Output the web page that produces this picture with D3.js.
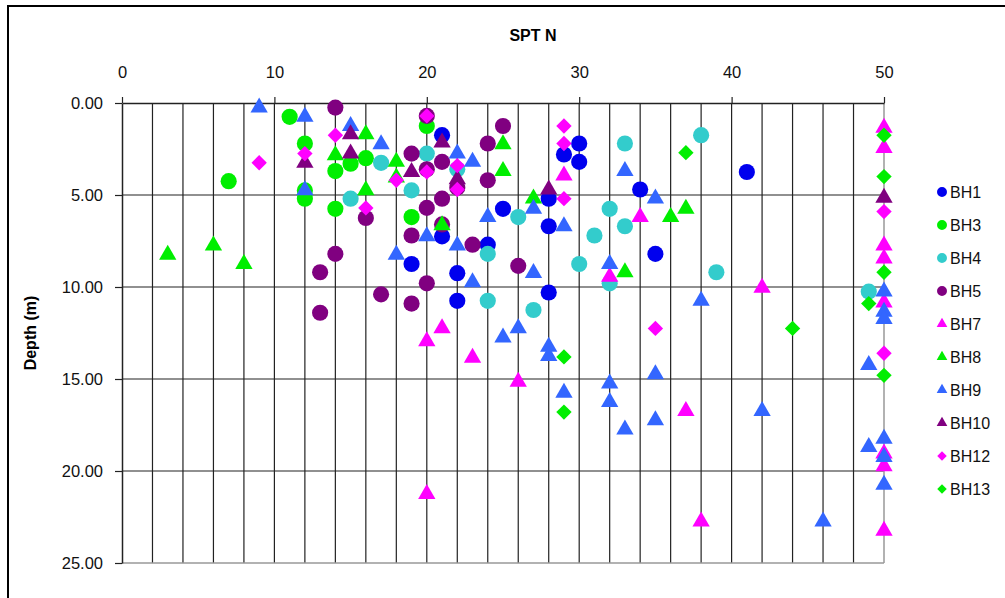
<!DOCTYPE html>
<html>
<head>
<meta charset="utf-8">
<script src="https://cdn.jsdelivr.net/npm/d3@7"></script>
<style>
  body { margin: 0; background: #fff; }
  svg { display: block; font-family: "Liberation Sans", Arial, sans-serif; }
</style>
</head>
<body>
<div id="chart"></div>
<script>
// SPT N vs depth, one array of [N, depth] per borehole
const BH1 = [[21,1.75],[29,2.8],[30,2.2],[30,3.2],[34,4.7],[41,3.75],[28,5.2],[25,5.75],[28,6.7],
  [21,7.25],[24,7.7],[19,8.75],[22,9.25],[35,8.2],[28,10.3],[22,10.75]];
const BH3 = [[11,0.75],[7,4.25],[12,2.2],[14,3.7],[15,3.3],[16,3.0],[20,1.25],[12,4.75],[12,5.2],
  [14,5.75],[19,6.2]];
const BH4 = [[17,3.25],[19,4.75],[20,2.75],[22,3.6],[15,5.2],[33,2.2],[26,6.2],[32,5.75],[33,6.7],
  [31,7.2],[38,1.75],[24,8.2],[30,8.75],[39,9.2],[32,9.8],[24,10.75],[27,11.25],[49,10.25]];
const BH5 = [[14,0.25],[20,0.7],[19,2.75],[21,3.2],[20,3.6],[22,4.6],[16,6.25],[20,5.7],[21,5.2],
  [19,7.2],[21,6.6],[23,7.7],[25,1.25],[24,2.2],[24,4.2],[14,8.2],[13,9.2],[13,11.4],[26,8.85],
  [20,9.8],[17,10.4],[19,10.9]];
const BH7 = [[29,4.0],[34,6.25],[32,9.5],[42,10.1],[21,12.3],[20,13.0],[23,13.9],[26,15.2],[37,16.8],
  [38,22.8],[20,21.3],[50,1.4],[50,2.5],[50,7.8],[50,8.5],[50,10.9],[50,19.1],[50,19.8],[50,23.3]];
const BH8 = [[16,1.75],[14,2.9],[18,3.25],[18,4.1],[16,4.8],[21,6.7],[25,2.3],[25,3.75],[27,5.25],
  [36,6.25],[37,5.8],[33,9.25],[3,8.3],[6,7.8],[8,8.8]];
const BH9 = [[9,0.3],[12,0.8],[15,1.3],[17,2.3],[12,4.8],[22,2.8],[23,3.25],[33,3.75],[35,5.25],
  [27,5.8],[24,6.25],[29,6.75],[20,7.3],[22,7.8],[18,8.3],[27,9.3],[23,9.8],[32,8.8],[38,10.8],
  [25,12.8],[26,12.3],[28,13.3],[28,13.8],[29,15.8],[32,15.3],[32,16.3],[33,17.8],[35,14.8],
  [35,17.3],[42,16.8],[49,14.3],[49,18.75],[46,22.8],[50,10.3],[50,11.4],[50,11.8],[50,18.3],
  [50,19.3],[50,20.8]];
const BH10 = [[15,1.75],[12,3.3],[15,2.8],[19,3.8],[21,2.2],[22,4.2],[28,4.75],[50,5.2]];
const BH12 = [[9,3.25],[14,1.75],[12,2.75],[18,4.2],[16,5.7],[20,0.7],[20,3.75],[22,3.4],[22,4.7],
  [29,1.25],[29,2.2],[29,5.2],[35,12.25],[50,5.9],[50,13.6]];
const BH13 = [[37,2.7],[44,12.25],[49,10.9],[29,13.8],[29,16.8],[50,1.75],[50,4.0],[50,9.2],[50,14.8]];

const seriesNames = ["BH1","BH3","BH4","BH5","BH7","BH8","BH9","BH10","BH12","BH13"];
const seriesData = [BH1, BH3, BH4, BH5, BH7, BH8, BH9, BH10, BH12, BH13];
const xTicks = [0, 10, 20, 30, 40, 50];
const yTicks = [0, 5, 10, 15, 20, 25];

const colors = ["#0000ee","#00ee00","#33cccc","#800080","#ff00ff","#00ee00","#3366ff","#800080","#ff00ff","#00ee00"];
const shapes = ["circle","circle","circle","circle","triangle","triangle","triangle","triangle","diamond","diamond"];

const width = 1005, height = 598;
const margin = {top: 103, left: 122, right: 121, bottom: 35};

const svg = d3.select("#chart").append("svg")
    .attr("width", width)
    .attr("height", height);

// outer chart frame
svg.append("rect")
    .attr("x", 8).attr("y", 6)
    .attr("width", 1010).attr("height", 610)
    .attr("fill", "#fff")
    .attr("stroke", "#000")
    .attr("stroke-width", 2);

const x = d3.scaleLinear().domain([0, 50]).range([margin.left, width - margin.right]);
const y = d3.scaleLinear().domain([0, 25]).range([margin.top, height - margin.bottom]);

// grid
svg.append("g")
  .selectAll("line")
  .data(d3.range(2, 50, 2))
  .join("line")
    .attr("x1", d => x(d)).attr("x2", d => x(d))
    .attr("y1", y(0)).attr("y2", y(25))
    .attr("stroke", "#222")
    .attr("stroke-width", 1.2);

svg.append("g")
  .selectAll("line")
  .data(yTicks.slice(1, -1))
  .join("line")
    .attr("x1", x(0)).attr("x2", x(50))
    .attr("y1", d => y(d)).attr("y2", d => y(d))
    .attr("stroke", "#222")
    .attr("stroke-width", 1.2);

// plot border: right & bottom grey
svg.append("line")
    .attr("x1", x(50)).attr("x2", x(50)).attr("y1", y(0)).attr("y2", y(25))
    .attr("stroke", "#999").attr("stroke-width", 1.5);
svg.append("line")
    .attr("x1", x(0)).attr("x2", x(50)).attr("y1", y(25)).attr("y2", y(25))
    .attr("stroke", "#999").attr("stroke-width", 1.5);

// axes
const xAxis = svg.append("g")
    .attr("transform", `translate(0,${y(0)})`)
    .call(d3.axisTop(x).tickValues(xTicks).tickSize(6).tickSizeOuter(0).tickPadding(19)
      .tickFormat(d3.format("d")));
const yAxis = svg.append("g")
    .attr("transform", `translate(${x(0)},0)`)
    .call(d3.axisLeft(y).tickValues(yTicks).tickSize(7).tickSizeOuter(0).tickPadding(12)
      .tickFormat(d3.format(".2f")));

[xAxis, yAxis].forEach(g => {
  g.select(".domain").attr("stroke", "#222").attr("stroke-width", 1.5);
  g.selectAll(".tick line").attr("stroke", "#222").attr("stroke-width", 1.2);
  g.selectAll(".tick text").attr("font-size", 16.5).attr("fill", "#111")
    .attr("font-family", "'Liberation Sans', Arial, sans-serif");
});

svg.append("text")
    .attr("x", 533).attr("y", 41)
    .attr("text-anchor", "middle")
    .attr("font-size", 16).attr("font-weight", "bold")
    .text("SPT N");

svg.append("text")
    .attr("transform", `translate(36,${(y(0) + y(25)) / 2}) rotate(-90)`)
    .attr("text-anchor", "middle")
    .attr("font-size", 16).attr("font-weight", "bold")
    .text("Depth (m)");

function symbolPath(shape, scale) {
  if (shape === "circle") return d3.symbol(d3.symbolCircle, 205 * scale)();
  if (shape === "triangle") return d3.symbol(d3.symbolTriangle, 130 * scale)();
  return d3.symbol(d3.symbolSquare, 118 * scale)();
}
const rot = shape => shape === "diamond" ? " rotate(45)" : (shape === "triangle" ? " translate(0,-1)" : "");

// markers
seriesData.forEach((data, i) => {
  svg.append("g")
    .selectAll("path")
    .data(data)
    .join("path")
      .attr("d", symbolPath(shapes[i], 1))
      .attr("transform", d => `translate(${x(d[0])},${y(d[1])})` + rot(shapes[i]))
      .attr("fill", colors[i]);
});

// legend
const legend = svg.append("g")
  .selectAll("g")
  .data(seriesNames)
  .join("g")
    .attr("transform", (d, i) => `translate(942,${192 + i * 33})`);

legend.append("path")
    .attr("d", (d, i) => symbolPath(shapes[i], 0.38))
    .attr("transform", (d, i) => shapes[i] === "diamond" ? "rotate(45)" : null)
    .attr("fill", (d, i) => colors[i]);

legend.append("text")
    .attr("x", 8).attr("dy", "0.36em")
    .attr("font-size", 16).attr("fill", "#111")
    .text(d => d);
</script>
</body>
</html>
